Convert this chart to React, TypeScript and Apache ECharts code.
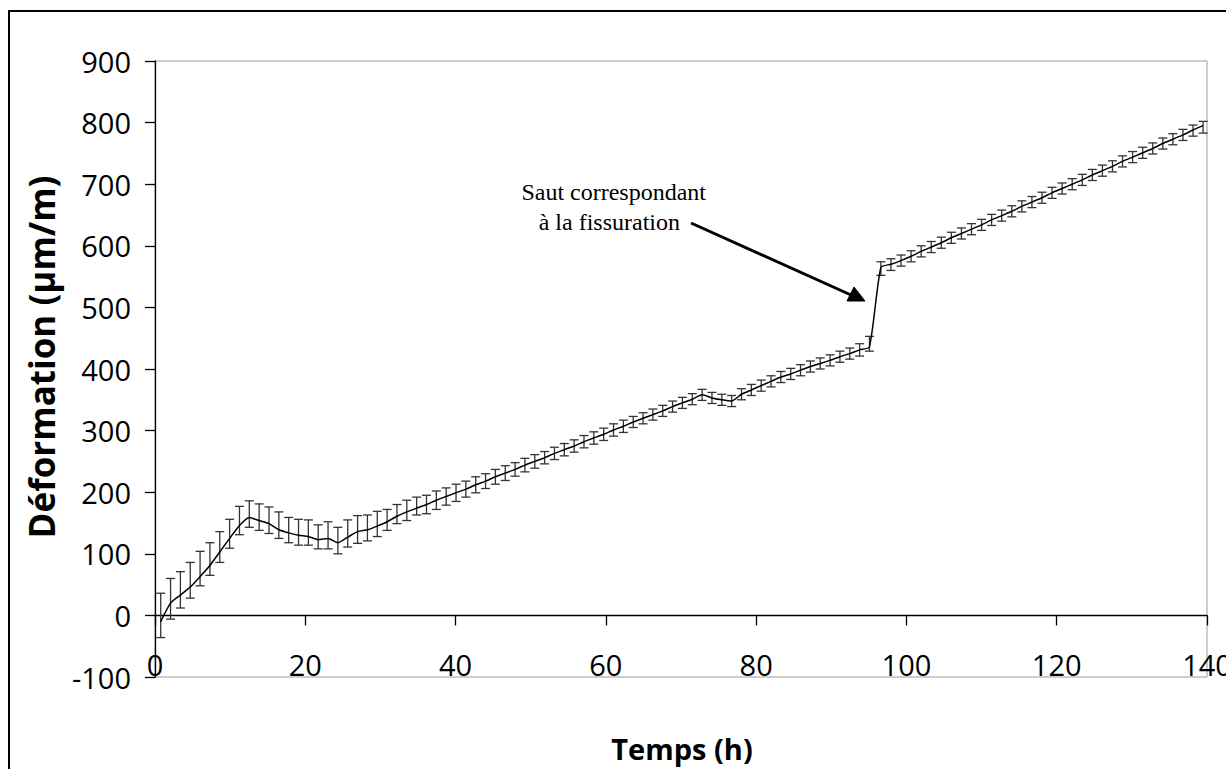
import React, { useEffect, useRef } from "react";
import * as echarts from "echarts";

// Time (h) of each measurement
const times: number[] = [
  0.76, 2.07, 3.38, 4.69, 6.0, 7.31, 8.62, 9.93, 11.24, 12.55,
  13.86, 15.17, 16.48, 17.79, 19.1, 20.41, 21.72, 23.03, 24.34, 25.65,
  26.96, 28.27, 29.58, 30.89, 32.2, 33.51, 34.82, 36.13, 37.44, 38.75,
  40.06, 41.37, 42.68, 43.99, 45.3, 46.61, 47.92, 49.23, 50.54, 51.85,
  53.16, 54.47, 55.78, 57.09, 58.4, 59.71, 61.02, 62.33, 63.64, 64.95,
  66.26, 67.57, 68.88, 70.19, 71.5, 72.81, 74.12, 75.43, 76.74, 78.05,
  79.36, 80.67, 81.98, 83.29, 84.6, 85.91, 87.22, 88.53, 89.84, 91.15,
  92.46, 93.77, 95.08,
  96.6, 97.94, 99.28, 100.62, 101.96, 103.3, 104.64, 105.98, 107.32, 108.66,
  110.0, 111.34, 112.68, 114.02, 115.36, 116.7, 118.04, 119.38, 120.72, 122.06,
  123.4, 124.74, 126.08, 127.42, 128.76, 130.1, 131.44, 132.78, 134.12, 135.46,
  136.8, 138.14, 139.48,
];

// Mean strain (µm/m)
const deformation: number[] = [
  -10, 20, 33, 46, 63, 81, 103, 125, 146, 159,
  154, 149, 139, 134, 130, 128, 123, 125, 118, 127,
  136, 139, 145, 152, 161, 168, 174, 180, 187, 193,
  199, 205, 212, 218, 225, 231, 237, 244, 250, 256,
  263, 269, 275, 282, 288, 294, 301, 307, 314, 320,
  326, 332, 339, 345, 351, 358, 353, 350, 348, 359,
  366, 373, 380, 387, 392, 398, 404, 409, 414, 420,
  425, 431, 436,
  565, 570, 576, 583, 591, 598, 605, 613, 620, 627,
  634, 642, 649, 656, 664, 671, 678, 686, 693, 700,
  707, 715, 722, 729, 737, 744, 751, 758, 766, 773,
  780, 788, 795,
];

// Error bar extents above the mean
const errPlus: number[] = [
  46, 40, 38, 40, 41, 37, 33, 31, 31, 27,
  27, 27, 29, 25, 26, 27, 24, 27, 25, 28,
  26, 24, 24, 20, 19, 19, 18, 15, 15, 14,
  14, 13, 13, 12, 12, 12, 11, 11, 11, 10,
  10, 10, 10, 10, 10, 10, 10, 10, 9, 9,
  9, 9, 9, 9, 9, 9, 9, 9, 9, 9,
  9, 9, 9, 9, 9, 9, 9, 9, 9, 9,
  9, 10, 17,
  9, 9, 9, 9, 9, 9, 9, 9, 9, 9,
  9, 9, 9, 9, 9, 9, 9, 9, 9, 9,
  9, 9, 9, 9, 9, 9, 9, 9, 9, 9,
  9, 8, 7,
];

// Error bar extents below the mean
const errMinus: number[] = [
  26, 26, 21, 18, 15, 16, 17, 16, 15, 16,
  16, 16, 14, 16, 16, 14, 15, 17, 18, 16,
  19, 18, 17, 14, 12, 14, 11, 15, 15, 14,
  14, 13, 13, 12, 12, 12, 11, 11, 11, 10,
  10, 10, 10, 10, 10, 10, 10, 10, 9, 9,
  9, 9, 9, 9, 9, 9, 9, 9, 9, 9,
  9, 9, 9, 9, 9, 9, 9, 9, 9, 9,
  9, 10, 7,
  13, 10, 9, 9, 9, 9, 9, 9, 9, 9,
  9, 9, 9, 9, 9, 9, 9, 9, 9, 9,
  9, 9, 9, 9, 9, 9, 9, 9, 9, 9,
  9, 10, 12,
];

const xTicks = { min: 0, max: 140, interval: 20 };
const yTicks = { min: -100, max: 900, interval: 100 };

const xTitle = "Temps (h)";
const yTitle = "Déformation (µm/m)";
const noteLine1 = "Saut correspondant";
const noteLine2 = "à la fissuration";

const SANS = '"Open Sans", "Noto Sans", sans-serif';
const SERIF = '"Liberation Serif", "DejaVu Serif", serif';

function textStyle(text: string, size: number, family: string, weight: string, align: string) {
  return {
    text,
    fill: "#000",
    font: `${weight} ${size}px ${family}`,
    fontSize: size,
    fontWeight: weight,
    fontFamily: family,
    align,
    verticalAlign: "middle",
    textAlign: align,
    textVerticalAlign: "middle",
  };
}

export default function App() {
  const ref = useRef<HTMLDivElement>(null);

  useEffect(() => {
    if (!ref.current) return;
    const chart = echarts.init(ref.current, undefined, { renderer: "svg" });

    const lineData = times.map((t, i) => [t, deformation[i]]);
    const errData = times.map((t, i) => [t, deformation[i] - errMinus[i], deformation[i] + errPlus[i]]);

    const errStyle = { stroke: "#333", lineWidth: 1.3 };
    const capW = 4.5;

    chart.setOption({
      animation: false,
      backgroundColor: "#fff",
      grid: {
        left: 155,
        top: 61,
        width: 1052,
        height: 616,
        containLabel: false,
        outerBoundsMode: "none",
        show: true,
        borderColor: "#9a9a9a",
        borderWidth: 1,
        backgroundColor: "transparent",
      },
      xAxis: {
        type: "value",
        min: xTicks.min,
        max: xTicks.max,
        interval: xTicks.interval,
        axisLine: { show: true, onZero: true, lineStyle: { color: "#000", width: 1.3 } },
        axisTick: { show: true, inside: false, length: 10, lineStyle: { color: "#000", width: 1.3 } },
        axisLabel: { fontSize: 29, color: "#000", fontFamily: SANS, margin: -27, hideOverlap: false },
        splitLine: { show: false },
      },
      yAxis: {
        type: "value",
        min: yTicks.min,
        max: yTicks.max,
        interval: yTicks.interval,
        axisLine: { show: true, onZero: false, lineStyle: { color: "#000", width: 1.3 } },
        axisTick: { show: true, inside: false, length: 10, lineStyle: { color: "#000", width: 1.3 } },
        axisLabel: { fontSize: 29, color: "#000", fontFamily: SANS, margin: 24 },
        splitLine: { show: false },
      },
      series: [
        {
          type: "custom",
          name: "erreur",
          data: errData,
          encode: { x: 0, y: [1, 2] },
          z: 2,
          renderItem: (params: any, api: any) => {
            const x = api.value(0);
            const lo = api.coord([x, api.value(1)]);
            const hi = api.coord([x, api.value(2)]);
            return {
              type: "group",
              children: [
                { type: "line", shape: { x1: hi[0], y1: hi[1], x2: lo[0], y2: lo[1] }, style: errStyle },
                { type: "line", shape: { x1: hi[0] - capW, y1: hi[1], x2: hi[0] + capW, y2: hi[1] }, style: errStyle },
                { type: "line", shape: { x1: lo[0] - capW, y1: lo[1], x2: lo[0] + capW, y2: lo[1] }, style: errStyle },
              ],
            };
          },
        },
        {
          type: "line",
          name: "Déformation",
          data: lineData,
          symbol: "none",
          smooth: 0.2,
          z: 3,
          lineStyle: { color: "#000", width: 1.5 },
        },
      ],
      graphic: [
        {
          type: "rect",
          silent: true,
          z: -10,
          shape: { x: 9, y: 11, width: 1260, height: 820 },
          style: { fill: "none", stroke: "#000", lineWidth: 2 },
        },
        {
          type: "text",
          x: 41,
          y: 357,
          rotation: Math.PI / 2,
          style: textStyle(yTitle, 35, SANS, "bold", "center"),
        },
        {
          type: "text",
          x: 682,
          y: 748,
          style: textStyle(xTitle, 29, SANS, "bold", "center"),
        },
        {
          type: "text",
          x: 706,
          y: 192,
          style: textStyle(noteLine1, 24, SERIF, "normal", "right"),
        },
        {
          type: "text",
          x: 680,
          y: 222,
          style: textStyle(noteLine2, 24, SERIF, "normal", "right"),
        },
        {
          type: "line",
          silent: true,
          shape: { x1: 691, y1: 223, x2: 851, y2: 295 },
          style: { stroke: "#000", lineWidth: 3 },
        },
        {
          type: "polygon",
          silent: true,
          shape: { points: [[865, 301], [847, 301], [854, 287]] },
          style: { fill: "#000", stroke: "#000", lineWidth: 1 },
        },
      ],
    });

    return () => chart.dispose();
  }, []);

  return (
    <div
      ref={ref}
      style={{ position: "absolute", left: 0, top: 0, width: 1226, height: 769, background: "#fff" }}
    />
  );
}
